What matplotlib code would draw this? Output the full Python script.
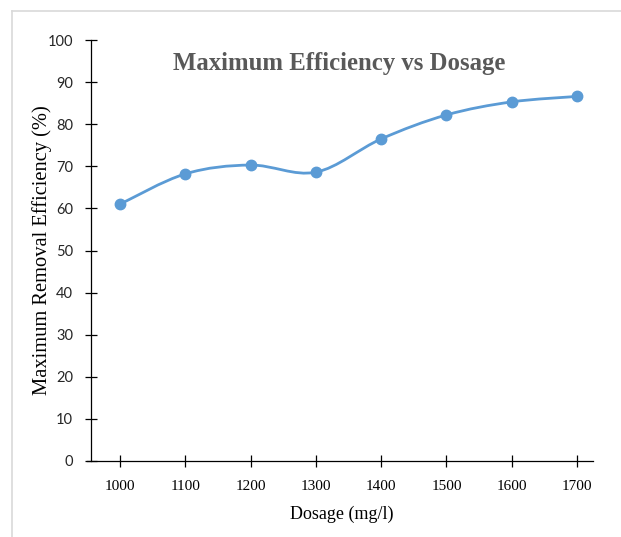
import numpy as np
import matplotlib.pyplot as plt
from matplotlib.path import Path
from matplotlib.patches import PathPatch
from matplotlib.lines import Line2D

# data
dosage = [1000, 1100, 1200, 1300, 1400, 1500, 1600, 1700]
efficiency = [61.0, 68.2, 70.3, 68.6, 76.5, 82.2, 85.3, 86.6]
yticks = [0, 10, 20, 30, 40, 50, 60, 70, 80, 90, 100]

plt.rcParams['font.family'] = ['Liberation Serif', 'DejaVu Serif']

blue = '#5B9BD5'

fig = plt.figure(figsize=(6.21, 5.37), dpi=100)
ax = fig.add_axes([91/621, 1-461/537, 502/621, 421/537])

# smoothed line like excel (bezier through the points)
x = np.array(dosage, float)
y = np.array(efficiency, float)
pts = np.column_stack([x, y])
verts = [pts[0]]
codes = [Path.MOVETO]
n = len(pts)
for k in range(n-1):
    p0 = pts[k-1] if k > 0 else pts[k]
    p1 = pts[k]
    p2 = pts[k+1]
    p3 = pts[k+2] if k+2 < n else pts[k+1]
    c1 = p1 + (p2-p0)/6
    c2 = p2 - (p3-p1)/6
    verts += [c1, c2, p2]
    codes += [Path.CURVE4]*3
ax.add_patch(PathPatch(Path(verts, codes), fill=False, edgecolor=blue, lw=2.0, capstyle='round'))
ax.plot(dosage, efficiency, 'o', color=blue, ms=7.5, zorder=3)

ax.set_xlim(955.6, 1724.5)
ax.set_ylim(0, 100)
ax.set_xticks(dosage)
ax.set_yticks(yticks)
for s in ['top', 'right']:
    ax.spines[s].set_visible(False)
for s in ['left', 'bottom']:
    ax.spines[s].set_linewidth(0.9)
ax.spines['bottom'].set_bounds(950, 1724.5)
ax.tick_params(direction='inout', length=8, width=0.9)
ax.tick_params(axis='x', labelsize=11, pad=10)
ax.tick_params(axis='y', labelsize=10.5, pad=9)
for lab in ax.get_yticklabels():
    lab.set_fontfamily(['Lato', 'DejaVu Sans'])
    lab.set_color('#262626')

ax.set_xlabel('Dosage (mg/l)', fontsize=13, labelpad=9)
ax.set_ylabel('Maximum Removal Efficiency (%)', fontsize=14.8, labelpad=-3)
ax.text(0.495, 0.945, 'Maximum Efficiency vs Dosage', transform=ax.transAxes,
        ha='center', va='center', fontsize=17.8, fontweight='bold', color='#595959')

# light frame around the chart
fig.add_artist(Line2D([12/621, 12/621], [0, 1-11/537], color='#d9d9d9', lw=1.2))
fig.add_artist(Line2D([12/621, 1], [1-11/537, 1-11/537], color='#d9d9d9', lw=1.2))

fig.savefig('out.png', dpi=100)
